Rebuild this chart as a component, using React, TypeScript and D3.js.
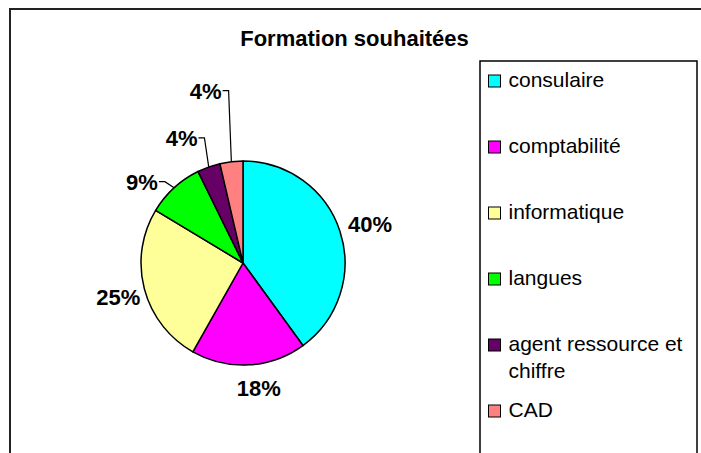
import React from 'react';
import * as d3 from 'd3';

const title = 'Formation souhaitées';
const categories = ['consulaire', 'comptabilité', 'informatique', 'langues', 'agent ressource et chiffre', 'CAD'];
const legendLines = [['consulaire'], ['comptabilité'], ['informatique'], ['langues'], ['agent ressource et', 'chiffre'], ['CAD']];
const counts = [22, 10, 14, 5, 2, 2];
const colors = ['#00FFFF', '#FF00FF', '#FFFF99', '#00FF00', '#660066', '#FF8080'];

// label placement (polar, relative to each slice's mid angle), like Excel's best-fit
const labelShiftDeg = [0.8, -3.9, -0.4, -8.8, -6.6, -5.7];
const labelRadiusFactor = [1.303, 1.238, 1.267, 1.268, 1.363, 1.724];

const W = 701;
const H = 453;
const cx = 243;
const cy = 263;
const R = 102;
const FONT = 'Arial, "Liberation Sans", sans-serif';
const LABEL_FS = 22;
const LEGEND_FS = 21;

export default function App() {
  const total = d3.sum(counts);
  const pie = d3.pie<number>().sort(null).value((d) => d).startAngle(0).endAngle(2 * Math.PI);
  const arcs = pie(counts);
  const arc = d3.arc<d3.PieArcDatum<number>>().innerRadius(0).outerRadius(R);

  const legendY = d3.scaleLinear().domain([0, categories.length - 1]).range([87, 417]);

  return (
    <svg width={W} height={H} style={{ position: 'absolute', left: 0, top: 0, background: '#fff' }} fontFamily={FONT}>
      <rect x={0} y={0} width={W} height={H} fill="#fff" />
      {/* outer chart frame */}
      <rect x={10} y={9} width={W + 20} height={H + 20} fill="none" stroke="#222" strokeWidth={2} />
      <text x={354.5} y={46} textAnchor="middle" fontSize={22} fontWeight="bold" fill="#000">{title}</text>

      <g transform={`translate(${cx},${cy})`}>
        {arcs.map((a, i) => (
          <path key={i} d={arc(a) || ''} fill={colors[i]} stroke="#000" strokeWidth={1.5} strokeLinejoin="round" />
        ))}
      </g>

      {arcs.map((a, i) => {
        const mid = (a.startAngle + a.endAngle) / 2;
        const ang = mid + (labelShiftDeg[i] * Math.PI) / 180;
        const rr = R * labelRadiusFactor[i];
        const lx = cx + rr * Math.sin(ang);
        const ly = cy - rr * Math.cos(ang);
        const txt = Math.round((counts[i] / total) * 100) + '%';
        const small = counts[i] / total < 0.1;
        let leader = null;
        if (small) {
          const digits = txt.length - 1;
          const halfW = ((digits * 0.556 + 0.889) * LABEL_FS) / 2;
          const sx = lx + halfW + 1;
          const sy = ly - 0.5;
          const px = cx + R * Math.sin(mid);
          const py = cy - R * Math.cos(mid);
          leader = (
            <polyline points={`${sx},${sy} ${sx + 6},${sy} ${px},${py}`} fill="none" stroke="#000" strokeWidth={1.2} />
          );
        }
        return (
          <g key={i}>
            {leader}
            <text x={lx} y={ly + 0.358 * LABEL_FS} textAnchor="middle" fontSize={LABEL_FS} fontWeight="bold" fill="#000">
              {txt}
            </text>
          </g>
        );
      })}

      {/* legend */}
      <rect x={480} y={61} width={217} height={H} fill="#fff" stroke="#000" strokeWidth={1.5} />
      {categories.map((c, i) => {
        const by = legendY(i);
        return (
          <g key={c}>
            <rect x={488.5} y={by - 12} width={12} height={12} fill={colors[i]} stroke="#000" strokeWidth={1} />
            {legendLines[i].map((ln, j) => (
              <text key={j} x={508.5} y={by + j * 27} fontSize={LEGEND_FS} fill="#000">{ln}</text>
            ))}
          </g>
        );
      })}
    </svg>
  );
}
